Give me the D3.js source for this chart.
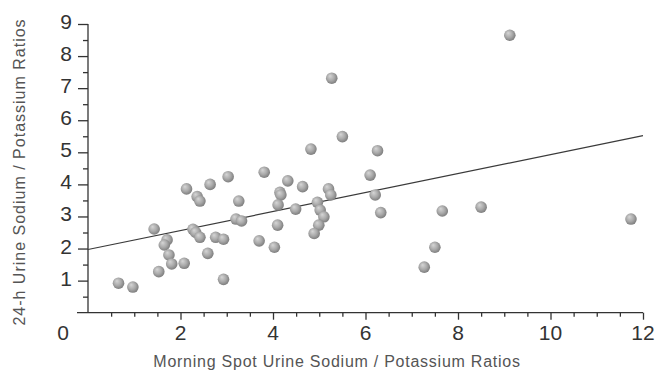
<!DOCTYPE html>
<html>
<head>
<meta charset="utf-8">
<script src="https://cdn.jsdelivr.net/npm/d3@7"></script>
<style>
  body { margin: 0; background: #fff; }
  svg { display: block; font-family: "Liberation Sans", Arial, sans-serif; }
</style>
</head>
<body>
<div id="chart"></div>
<script>
// spot urine Na/K ratio (x) vs 24-h urine Na/K ratio (y)
const spotRatio = [
  0.66, 0.97, 1.53, 1.43, 1.71, 1.65, 1.75, 1.81, 2.08, 2.13,
  2.36, 2.42, 2.27, 2.33, 2.42, 2.59, 2.64, 2.76, 2.93, 2.93,
  3.03, 3.26, 3.20, 3.32, 3.70, 3.81, 4.03, 4.15, 4.17, 4.11,
  4.10, 4.82, 6.26, 4.32, 4.64, 5.20, 5.25, 6.10, 6.21, 6.33,
  4.49, 4.96, 5.02, 5.10, 4.99, 4.89, 9.12, 7.66, 8.50, 11.74,
  7.50, 7.27, 5.27, 5.50
];
const dayRatio = [
  0.92, 0.80, 1.28, 2.61, 2.27, 2.11, 1.80, 1.52, 1.54, 3.86,
  3.62, 3.48, 2.60, 2.50, 2.35, 1.85, 4.00, 2.35, 2.29, 1.04,
  4.24, 3.48, 2.92, 2.86, 2.24, 4.38, 2.04, 3.75, 3.67, 3.36,
  2.73, 5.10, 5.05, 4.11, 3.93, 3.86, 3.67, 4.29, 3.67, 3.12,
  3.23, 3.44, 3.20, 2.99, 2.73, 2.47, 8.65, 3.17, 3.29, 2.92,
  2.04, 1.42, 7.31, 5.49
];
// regression line end points
const fitX = [0, 12];
const fitY = [1.97, 5.52];

const xTicks = [2, 4, 6, 8, 10, 12];
const yTicks = [1, 2, 3, 4, 5, 6, 7, 8, 9];
const xLabel = "Morning Spot Urine Sodium / Potassium Ratios";
const yLabel = "24-h Urine Sodium / Potassium Ratios";

const W = 659, H = 372;
const x = d3.scaleLinear().domain([0, 12]).range([88, 643]);
const y = d3.scaleLinear().domain([0, 9]).range([312.7, 24]);

const svg = d3.select("#chart").append("svg")
    .attr("width", W)
    .attr("height", H);

const defs = svg.append("defs");
const grad = defs.append("radialGradient")
    .attr("id", "ball")
    .attr("cx", "45%").attr("cy", "45%").attr("r", "60%")
    .attr("fx", "35%").attr("fy", "30%");
grad.append("stop").attr("offset", "0%").attr("stop-color", "#d6d6d6");
grad.append("stop").attr("offset", "55%").attr("stop-color", "#a9a9a9");
grad.append("stop").attr("offset", "100%").attr("stop-color", "#777");

// axes
const axisColor = "#333";
const gx = svg.append("g")
    .attr("transform", "translate(0," + y(0) + ")")
    .call(d3.axisBottom(x).tickValues(d3.range(0.5, 12.01, 0.5)).tickSize(4).tickFormat(""));
gx.selectAll(".tick line").filter(d => d % 2 === 0).attr("y2", 7);
gx.select(".domain").attr("d", "M" + (x(0) - 11) + ",0H" + x(12));

const gy = svg.append("g")
    .attr("transform", "translate(" + x(0) + ",0)")
    .call(d3.axisLeft(y).tickValues(d3.range(0.5, 9.01, 0.5)).tickSize(5).tickFormat(""));
gy.selectAll(".tick line").filter(d => Number.isInteger(d)).attr("x2", -10);
gy.select(".domain").attr("d", "M0," + y(9) + "V" + y(0));

svg.selectAll(".domain, .tick line").attr("stroke", axisColor).attr("stroke-width", 1.3);

// tick labels
svg.append("g").selectAll("text")
    .data(xTicks)
    .join("text")
    .attr("x", d => x(d))
    .attr("y", 340)
    .attr("text-anchor", "middle")
    .attr("font-size", 21)
    .attr("fill", "#333")
    .text(d => d);

svg.append("g").selectAll("text")
    .data(yTicks)
    .join("text")
    .attr("x", 66)
    .attr("y", d => y(d) + 5)
    .attr("text-anchor", "middle")
    .attr("font-size", 21)
    .attr("fill", "#333")
    .text(d => d);

svg.append("text")
    .attr("x", 63)
    .attr("y", 340)
    .attr("text-anchor", "middle")
    .attr("font-size", 21)
    .attr("fill", "#333")
    .text("0");

// axis titles
svg.append("text")
    .attr("x", 337)
    .attr("y", 367)
    .attr("text-anchor", "middle")
    .attr("font-size", 16)
    .attr("letter-spacing", 0.75)
    .attr("fill", "#555")
    .text(xLabel);

svg.append("text")
    .attr("transform", "translate(25,172) rotate(-90)")
    .attr("text-anchor", "middle")
    .attr("font-size", 16)
    .attr("letter-spacing", 1.0)
    .attr("fill", "#555")
    .text(yLabel);

// regression line
svg.append("path")
    .datum(d3.zip(fitX, fitY))
    .attr("fill", "none")
    .attr("stroke", "#3a3a3a")
    .attr("stroke-width", 1.2)
    .attr("d", d3.line().x(d => x(d[0])).y(d => y(d[1])));

// points
svg.append("g").selectAll("circle")
    .data(d3.zip(spotRatio, dayRatio))
    .join("circle")
    .attr("cx", d => x(d[0]))
    .attr("cy", d => y(d[1]))
    .attr("r", 5.8)
    .attr("fill", "url(#ball)");
</script>
</body>
</html>
